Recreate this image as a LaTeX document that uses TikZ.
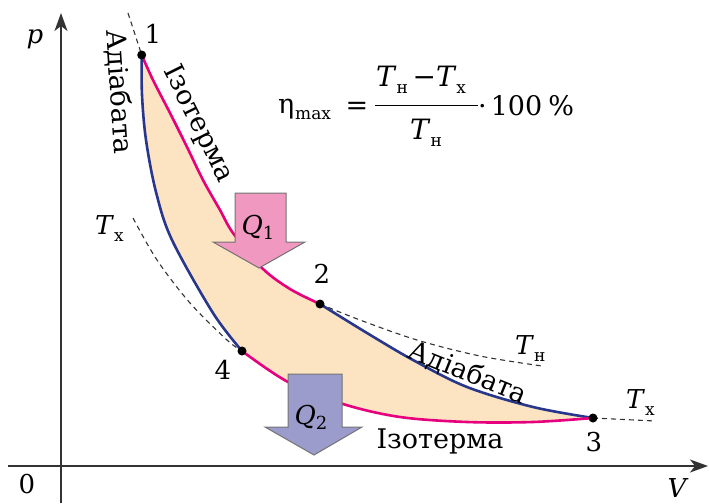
\documentclass[tikz,border=0pt]{standalone}
\usepackage{fontspec}
\setmainfont{DejaVu Serif}
\newfontfamily\schfont{DejaVu Serif}
\usetikzlibrary{arrows.meta}
\definecolor{isoc}{RGB}{230,0,126}
\definecolor{adc}{RGB}{40,55,140}
\definecolor{fillc}{RGB}{252,228,194}
\definecolor{qonec}{RGB}{241,152,193}
\definecolor{qtwoc}{RGB}{156,156,204}
\newcommand\Tlow[1]{\textit{T}\raisebox{-0.28em}{\fontsize{17}{17}\selectfont #1}}
\newcommand\Qlow[1]{\textit{Q}\raisebox{-0.2em}{\fontsize{18}{18}\selectfont #1}}
\begin{document}
\begin{tikzpicture}[x=1pt,y=-1pt,
  curve/.style={line width=2.6pt},
  iso/.style={curve,draw=isoc},
  adia/.style={curve,draw=adc},
  dsh/.style={dash pattern=on 5pt off 4pt,line width=1.1pt,draw=black!80},
  dot/.style={circle,fill=black,inner sep=0pt,minimum size=9pt},
  lbl/.style={font=\schfont\fontsize{26}{26}\selectfont,inner sep=0pt,anchor=base},
  word/.style={font=\schfont\fontsize{27}{27}\selectfont,inner sep=0pt},
  big/.style={font=\schfont\fontsize{27}{27}\selectfont,inner sep=0pt},
  axis/.style={line width=1.6pt,draw=black!80,-{Stealth[length=18pt,width=13pt,inset=5pt]}},
  qarrow/.style={draw=black!55,line width=1pt}
]
\useasboundingbox (0,0) rectangle (709,503);

\coordinate (p1) at (141.7,55);
\coordinate (p2) at (320,304);
\coordinate (p3) at (593,418);
\coordinate (p4) at (242,351);

% filled cycle
\fill[fillc] plot[smooth,tension=0.55] coordinates {(p1) (153,80) (170,113) (187,147) (203,180) (220,210) (233,233) (262,268) (290,289) (p2)}
 -- plot[smooth,tension=0.55] coordinates {(p2) (367,333) (413,360) (467,387) (533,407) (p3)}
 -- plot[smooth,tension=0.55] coordinates {(p3) (533,422) (467,422) (400,417) (343,404) (288,382) (p4)}
 -- plot[smooth,tension=0.55] coordinates {(p4) (213,313) (172,240) (156,192) (146,140) (142,95) (p1)} -- cycle;

% axes
\coordinate (yb) at (61,503);
\coordinate (yt) at (61,13);
\coordinate (xl) at (8,466);
\coordinate (xr) at (708,466);
\draw[axis] (yb) -- (yt);
\draw[axis] (xl) -- (xr);

% dashed isotherm continuations
\coordinate (d1) at (128,13);
\coordinate (d2) at (542,366);
\coordinate (d3) at (133,218);
\coordinate (d4) at (655,421);
\draw[dsh] (d1) -- (p1);
\draw[dsh] plot[smooth,tension=0.55] coordinates {(p2) (360,320) (417,340) (480,356) (d2)};
\draw[dsh] plot[smooth,tension=0.55] coordinates {(d3) (157,260) (190,303) (227,340) (p4)};
\draw[dsh] (p3) -- (d4);

% curves
\draw[iso] plot[smooth,tension=0.55] coordinates {(p1) (153,80) (170,113) (187,147) (203,180) (220,210) (233,233) (262,268) (290,289) (p2)};
\draw[adia] plot[smooth,tension=0.55] coordinates {(p2) (367,333) (413,360) (467,387) (533,407) (p3)};
\draw[iso] plot[smooth,tension=0.55] coordinates {(p3) (533,422) (467,422) (400,417) (343,404) (288,382) (p4)};
\draw[adia] plot[smooth,tension=0.55] coordinates {(p4) (213,313) (172,240) (156,192) (146,140) (142,95) (p1)};

% heat arrows
\draw[qarrow,fill=qonec] (235,193) -- (286,193) -- (286,242) -- (305,242) -- (259,268) -- (213,242) -- (235,242) -- cycle;
\draw[qarrow,fill=qtwoc] (288,374) -- (342,374) -- (342,427) -- (362,427) -- (314,455) -- (265,427) -- (288,427) -- cycle;
\node[lbl] (q1) at (258,234) {\Qlow{1}};
\node[lbl] (q2) at (311,424) {\Qlow{2}};

% points
\node[dot] (n1) at (p1) {};
\node[dot] (n2) at (p2) {};
\node[dot] (n3) at (p3) {};
\node[dot] (n4) at (p4) {};
\node[lbl] (l1) at (153,44) {1};
\node[lbl] (l2) at (322,283) {2};
\node[lbl] (l3) at (594,451) {3};
\node[lbl] (l4) at (223,379) {4};

% axis labels
\node[lbl] (lp) at (35,44) {\textit{p}};
\node[lbl] (lv) at (678,497) {\textit{V}};
\node[lbl] (l0) at (27,493) {0};

% temperature labels
\node[lbl,anchor=base west] (tx1) at (95,234) {\Tlow{х}};
\node[lbl,anchor=base west] (tn) at (515,354) {\Tlow{н}};
\node[lbl,anchor=base west] (tx2) at (626,408) {\Tlow{х}};

% curve names
\node[word,rotate=-86] (ad1) at (119,92) {Адіабата};
\node[word,rotate=-63.6] (is1) at (198,124) {Ізотерма};
\node[word,rotate=-22] (ad2) at (468,373) {Адіабата};
\node[word,anchor=base] (is2) at (440,448) {Ізотерма};

% formula
\node[big,anchor=base west] (eta) at (278,113) {η};
\node[font=\schfont\fontsize{17}{17}\selectfont,inner sep=0pt,anchor=base west] (emax) at (295,119) {max};
\node[big,anchor=base] (eq) at (357,114) {=};
\node[font=\schfont\fontsize{28}{28}\selectfont,inner sep=0pt,anchor=base west] (num) at (376,86) {\Tlow{н}\,−\Tlow{х}};
\node[font=\schfont\fontsize{28}{28}\selectfont,inner sep=0pt,anchor=base west] (den) at (410,139) {\Tlow{н}};
\coordinate (fl) at (375,105);
\coordinate (fr) at (478,105);
\draw[line width=1pt] (fl) -- (fr);
\node[big,anchor=base west] (pct) at (478,115) {·\hspace{4pt}100\hspace{6pt}\%};
\end{tikzpicture}
\end{document}
